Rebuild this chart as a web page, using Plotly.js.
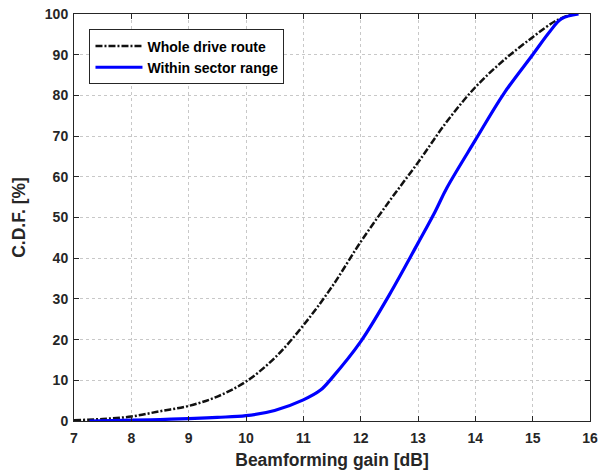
<!DOCTYPE html>
<html>
<head>
<meta charset="utf-8">
<script src="https://cdn.plot.ly/plotly-3.0.1.min.js"></script>
<style>body{margin:0;background:#fff;}#chart{width:598px;height:476px;}</style>
</head>
<body>
<div id="chart"></div>
<script>
const wholeX = [7, 7.5, 8, 8.5, 9, 9.5, 10, 10.5, 11, 11.5, 12, 12.5, 13, 13.5, 14, 14.5, 15, 15.4, 15.7];
const wholeY = [0.2, 0.5, 1.1, 2.4, 3.7, 6, 9.7, 15.5, 23.5, 33, 44, 54, 63.5, 73.5, 82, 88.7, 94.3, 98.3, 100];
const sectorX = [7.27, 8, 8.5, 9, 9.5, 10, 10.5, 11, 11.3, 11.5, 12, 12.5, 13, 13.3, 13.5, 14, 14.5, 15, 15.3, 15.5, 15.8];
const sectorY = [0, 0.2, 0.35, 0.6, 0.9, 1.3, 2.6, 5.2, 7.6, 10.6, 19.5, 31, 43.7, 51.5, 57.2, 69, 80.5, 90, 95.7, 98.8, 100];
const seriesNames = ['Whole drive route', 'Within sector range'];
const xTicks = [7, 8, 9, 10, 11, 12, 13, 14, 15, 16];
const yTicks = [0, 10, 20, 30, 40, 50, 60, 70, 80, 90, 100];

const fam = 'Liberation Sans, Arial, sans-serif';
const fnt = {family: fam, color: '#262626', size: 14, weight: 'bold'};

const traces = [
  {x: wholeX, y: wholeY, name: seriesNames[0], mode: 'lines', line: {color: '#111111', width: 2.5, dash: '7px,2px,2px,2px', shape: 'spline'}},
  {x: sectorX, y: sectorY, name: seriesNames[1], mode: 'lines', line: {color: '#0000ff', width: 3.2, shape: 'spline'}}
];

const axisCommon = {
  showline: true, linecolor: '#262626', linewidth: 1, mirror: 'ticks',
  ticks: 'inside', ticklen: 5, tickcolor: '#262626',
  showgrid: true, gridcolor: '#c8c8c8', griddash: 'dot', gridwidth: 1,
  zeroline: false, tickfont: fnt
};

const layout = {
  width: 598, height: 476,
  margin: {l: 74, r: 8, t: 14, b: 55},
  paper_bgcolor: '#fff', plot_bgcolor: '#fff',
  showlegend: true,
  legend: {x: 0.03, y: 0.962, xanchor: 'left', yanchor: 'top', bgcolor: '#fff', bordercolor: '#262626', borderwidth: 1,
    itemwidth: 47,
    font: {family: fam, color: '#000', size: 14, weight: 'bold'}, tracegroupgap: 0},
  xaxis: Object.assign({}, axisCommon, {range: [7, 16], tickvals: xTicks, ticktext: xTicks.map(String), ticklabelstandoff: 4,
    title: {text: 'Beamforming gain [dB]', font: Object.assign({}, fnt, {size: 17.5}), standoff: 8}}),
  yaxis: Object.assign({}, axisCommon, {range: [0, 100], tickvals: yTicks, ticktext: yTicks.map(String), ticklabelstandoff: 2,
    title: {text: 'C.D.F. [%]', font: Object.assign({}, fnt, {size: 17.5}), standoff: 14}})
};

Plotly.newPlot('chart', traces, layout, {displayModeBar: false, staticPlot: true});
</script>
</body>
</html>
